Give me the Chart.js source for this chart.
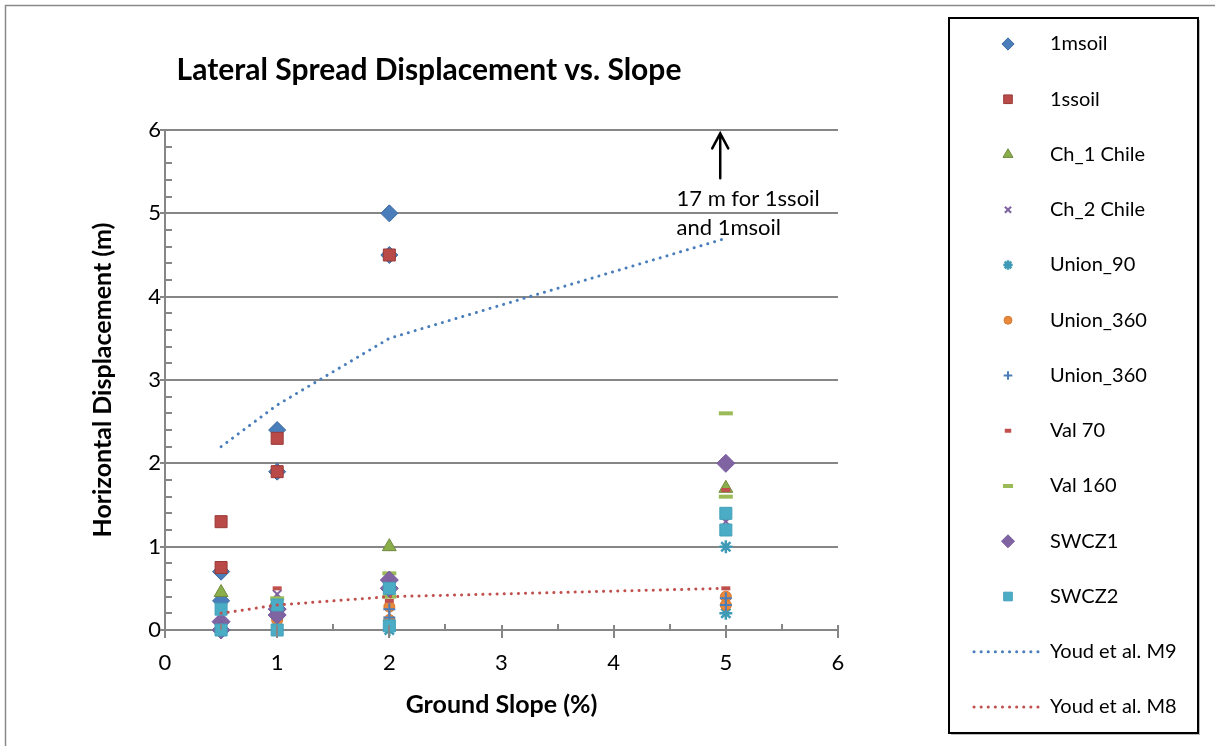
<!DOCTYPE html>
<html><head><meta charset="utf-8">
<script src="https://cdn.jsdelivr.net/npm/chart.js@4.4.1/dist/chart.umd.min.js"></script>
<style>html,body{margin:0;padding:0;background:#fff}#wrap{width:1215px;height:746px;position:relative}</style>
</head><body><div id="wrap"><canvas id="c" width="1215" height="746"></canvas></div>
<script>
// ---- data (Ground slope %, horizontal displacement m) ----
const seriesLabels = ["1msoil","1ssoil","Ch_1 Chile","Ch_2 Chile","Union_90","Union_360","Union_360","Val 70","Val 160","SWCZ1","SWCZ2","Youd et al. M9","Youd et al. M8"];
const slope_1msoil = [0.5, 0.5, 1, 1, 2, 2, 5];
const disp_1msoil  = [0.7, 0.35, 2.4, 1.9, 5.0, 4.5, 17];
const slope_1ssoil = [0.5, 0.5, 1, 1, 2, 5];
const disp_1ssoil  = [1.3, 0.75, 2.3, 1.9, 4.5, 17];
const slope_ch1 = [0.5, 1, 2, 5];
const disp_ch1  = [0.45, 0.35, 1.0, 1.7];
const slope_ch2 = [1, 5];
const disp_ch2  = [0.43, 1.3];
const slope_union90 = [2, 5, 5];
const disp_union90  = [0.0, 1.0, 0.2];
const slope_union360a = [1, 2, 2, 5, 5];
const disp_union360a  = [0.12, 0.28, 0.12, 0.4, 0.3];
const slope_union360b = [1, 2, 2, 5, 5];
const disp_union360b  = [0.15, 0.25, 0.15, 0.38, 0.3];
const slope_val70 = [1, 2, 5, 5];
const disp_val70  = [0.5, 0.35, 1.68, 0.5];
const slope_val160 = [1, 2, 2, 5, 5];
const disp_val160  = [0.38, 0.68, 0.4, 2.6, 1.6];
const slope_swcz1 = [0.5, 0.5, 1, 1, 2, 2, 5];
const disp_swcz1  = [0.1, 0.0, 0.25, 0.18, 0.6, 0.5, 2.0];
const slope_swcz2 = [0.5, 0.5, 1, 1, 2, 2, 5, 5];
const disp_swcz2  = [0.25, 0.0, 0.3, 0.0, 0.5, 0.05, 1.4, 1.2];
const slope_youdM9 = [0.5, 1, 2, 5];
const disp_youdM9  = [2.2, 2.7, 3.5, 4.7];
const slope_youdM8 = [0.5, 1, 2, 5];
const disp_youdM8  = [0.2, 0.3, 0.4, 0.5];
const axisTicks = [0, 1, 2, 3, 4, 5, 6];
const noteLines = ["17 m for 1ssoil", "and 1msoil"];

const pts = (xs, ys) => xs.map((x, i) => ({x: x, y: ys[i]}));

function pointSet(i, xs, ys, style, r, bg, bc, bw) {
  return {label: seriesLabels[i], data: pts(xs, ys), pointStyle: style, pointRadius: r,
    pointHoverRadius: r, backgroundColor: bg, borderColor: bc, pointBorderWidth: bw,
    pointBackgroundColor: bg, pointBorderColor: bc, showLine: false, order: -i, clip: false};
}
function lineSet(i, xs, ys, color) {
  return {label: seriesLabels[i], data: pts(xs, ys), showLine: true, pointRadius: 0,
    borderColor: color, backgroundColor: color, borderWidth: 3, borderDash: [0.1, 7],
    borderCapStyle: 'round', tension: 0, order: -i, clip: false};
}

const datasets = [
  pointSet(0, slope_1msoil, disp_1msoil, 'rectRot', 8.5, '#4A7EBB', '#3A679E', 1),
  pointSet(1, slope_1ssoil, disp_1ssoil, 'rect', 8.5, '#B94A48', '#9A3B38', 1),
  pointSet(2, slope_ch1, disp_ch1, 'triangle', 8, '#8AAE4A', '#71893F', 1),
  pointSet(3, slope_ch2, disp_ch2, 'crossRot', 6, '#7E62A1', '#7E62A1', 2),
  pointSet(4, slope_union90, disp_union90, 'star', 6.5, '#3F9BB5', '#3F9BB5', 2.5),
  pointSet(5, slope_union360a, disp_union360a, 'circle', 5.5, '#E8883A', '#D9782C', 1),
  pointSet(6, slope_union360b, disp_union360b, 'cross', 6, '#4A7EBB', '#4A7EBB', 2),
  pointSet(7, slope_val70, disp_val70, 'line', 4.5, '#C0504D', '#C0504D', 4),
  pointSet(8, slope_val160, disp_val160, 'line', 7, '#9BBB59', '#9BBB59', 4),
  pointSet(9, slope_swcz1, disp_swcz1, 'rectRot', 9, '#8064A2', '#7559A0', 1),
  pointSet(10, slope_swcz2, disp_swcz2, 'rect', 8.5, '#4BACC6', '#45A0B9', 1),
  lineSet(11, slope_youdM9, disp_youdM9, '#4A7EBB'),
  lineSet(12, slope_youdM8, disp_youdM8, '#C0504D')
];

const FONT = 'Lato, "Liberation Sans", sans-serif';
const GRID = '#868686';

const decoPlugin = {
  id: 'deco',
  afterDraw(chart) {
    const ctx = chart.ctx, x = chart.scales.x, y = chart.scales.y, a = chart.chartArea;
    ctx.save();
    // outer frame
    ctx.strokeStyle = '#8a8a8a'; ctx.lineWidth = 1.5;
    ctx.beginPath(); ctx.moveTo(5.5, 746); ctx.lineTo(5.5, 5.5); ctx.lineTo(1215, 5.5); ctx.stroke();
    // tick marks
    ctx.strokeStyle = GRID; ctx.lineWidth = 2;
    ctx.beginPath();
    axisTicks.forEach(v => {
      const py = Math.round(y.getPixelForValue(v));
      ctx.moveTo(a.left - 5, py); ctx.lineTo(a.left, py);
      const px = Math.round(x.getPixelForValue(v));
      ctx.moveTo(px, a.bottom - 5); ctx.lineTo(px, a.bottom + 8);
    });
    for (let k = 1; k < 30; k++) {
      if (k % 5 === 0) continue;
      const py = Math.round(y.getPixelForValue(k / 5));
      ctx.moveTo(a.left, py); ctx.lineTo(a.left + 7, py);
    }
    for (let k = 0; k < 6; k++) {
      const px = Math.round(x.getPixelForValue(k + 0.5));
      ctx.moveTo(px, a.bottom - 6); ctx.lineTo(px, a.bottom);
    }
    ctx.stroke();
    // annotation arrow + note
    const ax = x.getPixelForValue(4.95);
    const yTip = y.getPixelForValue(5.96), yEnd = y.getPixelForValue(5.42);
    ctx.strokeStyle = '#000'; ctx.lineWidth = 2.5; ctx.lineCap = 'round';
    ctx.beginPath();
    ctx.moveTo(ax, yEnd); ctx.lineTo(ax, yTip);
    ctx.moveTo(ax - 8, yTip + 15); ctx.lineTo(ax, yTip); ctx.lineTo(ax + 8, yTip + 15);
    ctx.stroke();
    ctx.fillStyle = '#000'; ctx.font = '22px ' + FONT; ctx.textBaseline = 'middle'; ctx.textAlign = 'left';
    ctx.fillText(noteLines[0], x.getPixelForValue(4.56), y.getPixelForValue(5.17));
    ctx.fillText(noteLines[1], x.getPixelForValue(4.56), y.getPixelForValue(4.82));
    // legend
    ctx.lineCap = 'butt';
    ctx.fillStyle = '#bbb'; ctx.fillRect(951, 733, 249, 2); ctx.fillRect(1198, 20, 2, 715);
    ctx.strokeStyle = '#000'; ctx.lineWidth = 2; ctx.strokeRect(949, 18, 249, 715);
    const dp = Chart.helpers && Chart.helpers.drawPoint;
    chart.data.datasets.forEach((ds, i) => {
      const ly = 44 + i * 55.25;
      if (ds.showLine) {
        ctx.strokeStyle = ds.borderColor; ctx.lineWidth = ds.borderWidth;
        ctx.setLineDash(ds.borderDash); ctx.lineCap = 'round';
        ctx.beginPath(); ctx.moveTo(974, ly); ctx.lineTo(1038, ly); ctx.stroke();
        ctx.setLineDash([]); ctx.lineCap = 'butt';
      } else if (dp) {
        ctx.fillStyle = ds.pointBackgroundColor; ctx.strokeStyle = ds.pointBorderColor;
        ctx.lineWidth = ds.pointBorderWidth;
        dp(ctx, {pointStyle: ds.pointStyle, radius: ds.pointRadius * 0.72, rotation: 0, borderWidth: ds.pointBorderWidth}, 1008, ly);
      }
      ctx.fillStyle = '#000'; ctx.font = '20px ' + FONT; ctx.textBaseline = 'middle'; ctx.textAlign = 'left';
      ctx.fillText(ds.label, 1050, ly);
    });
    ctx.restore();
  }
};

new Chart(document.getElementById('c'), {
  type: 'scatter',
  data: {datasets: datasets},
  options: {
    responsive: false, animation: false, devicePixelRatio: 1,
    layout: {padding: {left: 20, right: 377, top: 0, bottom: 0}},
    plugins: {
      legend: {display: false},
      tooltip: {enabled: false},
      title: {display: true, text: 'Lateral Spread Displacement vs. Slope', color: '#000',
        font: {family: FONT, size: 30, weight: 'bold'}, padding: {top: 52, bottom: 42}}
    },
    scales: {
      x: {type: 'linear', min: 0, max: 6,
        afterBuildTicks: s => { s.ticks = axisTicks.map(v => ({value: v})); },
        ticks: {color: '#000', font: {family: FONT, size: 22}, padding: 20},
        grid: {drawOnChartArea: false, drawTicks: false},
        border: {color: GRID, width: 2},
        title: {display: true, text: 'Ground Slope (%)', color: '#000', font: {family: FONT, size: 25, weight: 'bold'}, padding: {top: 0, bottom: 26}},
        afterFit: s => { s.height = 116; }
      },
      y: {type: 'linear', min: 0, max: 6,
        afterBuildTicks: s => { s.ticks = axisTicks.map(v => ({value: v})); },
        ticks: {color: '#000', font: {family: FONT, size: 22}, padding: 4},
        grid: {color: GRID, lineWidth: 2, drawTicks: false},
        border: {color: GRID, width: 2},
        title: {display: true, text: 'Horizontal Displacement (m)', color: '#000', font: {family: FONT, size: 25, weight: 'bold'}, padding: {top: 68, bottom: 0}},
        afterFit: s => { s.width = 145; }
      }
    }
  },
  plugins: [decoPlugin]
});
</script></body></html>
